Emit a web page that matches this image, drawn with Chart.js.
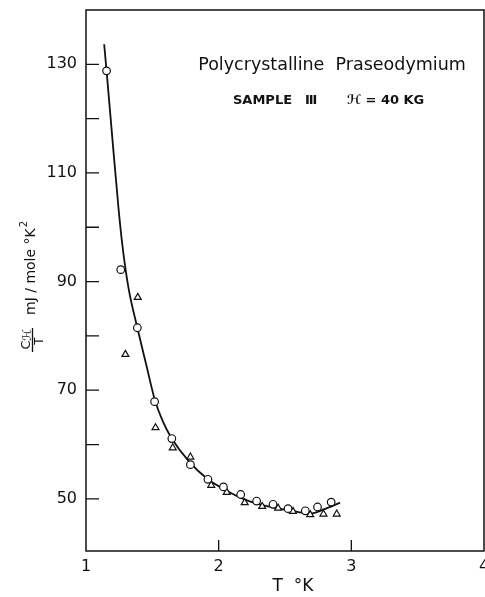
<!DOCTYPE html>
<html>
<head>
<meta charset="utf-8">
<script src="https://cdn.jsdelivr.net/npm/chart.js@4"></script>
<style>
  html, body { margin: 0; padding: 0; background: #fff; }
  #wrap { width: 485px; height: 597px; }
</style>
</head>
<body>
<div id="wrap"><canvas id="heatChart" width="485" height="597"></canvas></div>
<script>
// measured C/T (mJ/mole K^2) vs T (K), sample III at 40 kG
const circleT = [1.155, 1.262, 1.387, 1.517, 1.647, 1.787, 1.919, 2.036, 2.166, 2.286, 2.410, 2.523, 2.653, 2.745, 2.848];
const circleC = [128.8, 92.2, 81.5, 67.9, 61.1, 56.3, 53.6, 52.2, 50.8, 49.6, 49.0, 48.2, 47.8, 48.5, 49.4];
const triT = [1.297, 1.390, 1.524, 1.654, 1.787, 1.944, 2.061, 2.196, 2.328, 2.448, 2.560, 2.690, 2.790, 2.890];
const triC = [76.6, 87.1, 63.1, 59.4, 57.7, 52.5, 51.2, 49.3, 48.6, 48.3, 47.7, 47.1, 47.2, 47.2];

// smooth curve through the data
const fitT = [1.137, 1.155, 1.200, 1.245, 1.270, 1.295, 1.325, 1.387, 1.455, 1.517, 1.580, 1.644, 1.779, 1.919, 2.054, 2.204, 2.354, 2.528, 2.690, 2.798, 2.915];
const fitC = [133.7, 128.8, 116.0, 103.5, 97.6, 92.8, 88.2, 81.5, 74.6, 68.4, 64.2, 61.2, 56.8, 53.6, 51.6, 49.8, 48.7, 47.9, 47.3, 48.1, 49.3];

const xTicks = [1, 2, 3, 4];
const yTicks = [50, 60, 70, 80, 90, 100, 110, 120, 130];
const yLabels = [50, 70, 90, 110, 130];

const ink = '#111';
const font = 'DejaVu Sans';

const toPoints = (xs, ys) => xs.map((x, i) => ({ x: x, y: ys[i] }));

// box around the plot, inward ticks and the hand-lettered texts
const framePlugin = {
    id: 'frame',
    afterDraw(chart) {
        const { ctx, chartArea: a, scales } = chart;
        ctx.save();
        ctx.strokeStyle = ink;
        ctx.lineWidth = 1.5;
        ctx.strokeRect(a.left, a.top, a.right - a.left, a.bottom - a.top);

        ctx.lineWidth = 1.3;
        ctx.beginPath();
        yTicks.forEach(v => {
            const py = scales.y.getPixelForValue(v);
            ctx.moveTo(a.left, py);
            ctx.lineTo(a.left + 13, py);
        });
        xTicks.slice(1, 3).forEach(v => {
            const px = scales.x.getPixelForValue(v);
            ctx.moveTo(px, a.bottom);
            ctx.lineTo(px, a.bottom - 11);
        });
        ctx.stroke();

        ctx.fillStyle = ink;
        ctx.textAlign = 'center';
        ctx.textBaseline = 'middle';
        ctx.font = '17.5px "' + font + '"';
        ctx.fillText('Polycrystalline  Praseodymium', 332, 65);
        ctx.font = 'bold 13px "' + font + '"';
        ctx.textAlign = 'left';
        ctx.fillText('SAMPLE', 233, 101);
        ctx.fillText('\u2162', 305, 101);
        ctx.fillText('\u210B = 40 KG', 347, 101);

        // x axis title
        ctx.textAlign = 'center';
        ctx.font = '17px "' + font + '"';
        ctx.fillText('T  \u00B0K', 293, 587);

        // y axis title: C_H / T  mJ/mole °K²
        ctx.translate(31, 340);
        ctx.rotate(-Math.PI / 2);
        ctx.textBaseline = 'alphabetic';
        ctx.font = '13px "' + font + '"';
        ctx.fillText('C', -5, -1);
        ctx.font = '12px "' + font + '"';
        ctx.fillText('\u210B', 5, 0);
        ctx.lineWidth = 1.3;
        ctx.beginPath();
        ctx.moveTo(-12, 1.5);
        ctx.lineTo(12, 1.5);
        ctx.stroke();
        ctx.textBaseline = 'top';
        ctx.font = '12px "' + font + '"';
        ctx.fillText('T', -1, 2.5);

        ctx.textAlign = 'left';
        ctx.textBaseline = 'alphabetic';
        ctx.font = '14px "' + font + '"';
        const unit = 'mJ / mole \u00B0K';
        ctx.fillText(unit, 25, 4);
        const w = ctx.measureText(unit).width;
        ctx.font = '10px "' + font + '"';
        ctx.fillText('2', 25 + w + 1, -4);
        ctx.restore();
    }
};

new Chart(document.getElementById('heatChart'), {
    type: 'scatter',
    data: {
        datasets: [
            {
                label: 'fit',
                data: toPoints(fitT, fitC),
                showLine: true,
                borderColor: ink,
                borderWidth: 1.8,
                pointRadius: 0,
                cubicInterpolationMode: 'monotone',
                order: 3
            },
            {
                label: 'circles',
                data: toPoints(circleT, circleC),
                pointStyle: 'circle',
                pointRadius: 3.8,
                borderWidth: 1.2,
                borderColor: ink,
                backgroundColor: '#fff',
                order: 1
            },
            {
                label: 'triangles',
                data: toPoints(triT, triC),
                pointStyle: 'triangle',
                pointRadius: 4,
                borderWidth: 1.2,
                borderColor: ink,
                backgroundColor: '#fff',
                order: 2
            }
        ]
    },
    options: {
        responsive: false,
        animation: false,
        layout: { autoPadding: false, padding: { top: 10, right: 1, left: 0, bottom: 0 } },
        plugins: {
            legend: { display: false },
            tooltip: { enabled: false }
        },
        scales: {
            x: {
                type: 'linear',
                min: 1,
                max: 4,
                grid: { display: false, drawTicks: false },
                border: { display: false },
                ticks: {
                    stepSize: 1,
                    color: ink,
                    padding: 6,
                    maxRotation: 0,
                    font: { family: font, size: 16 }
                },
                afterBuildTicks: scale => { scale.ticks = xTicks.map(v => ({ value: v })); },
                afterFit: scale => {
                    scale.height = 46;
                    scale.paddingLeft = 0;
                    scale.paddingRight = 0;
                }
            },
            y: {
                type: 'linear',
                min: 40.4,
                max: 140,
                grid: { display: false, drawTicks: false },
                border: { display: false },
                ticks: {
                    color: ink,
                    padding: 9,
                    font: { family: font, size: 16 },
                    callback: v => (yLabels.includes(v) ? String(v) : '')
                },
                afterBuildTicks: scale => { scale.ticks = yTicks.map(v => ({ value: v })); },
                afterFit: scale => {
                    scale.width = 86;
                    scale.paddingTop = 0;
                    scale.paddingBottom = 0;
                }
            }
        }
    },
    plugins: [framePlugin]
});
</script>
</body>
</html>
